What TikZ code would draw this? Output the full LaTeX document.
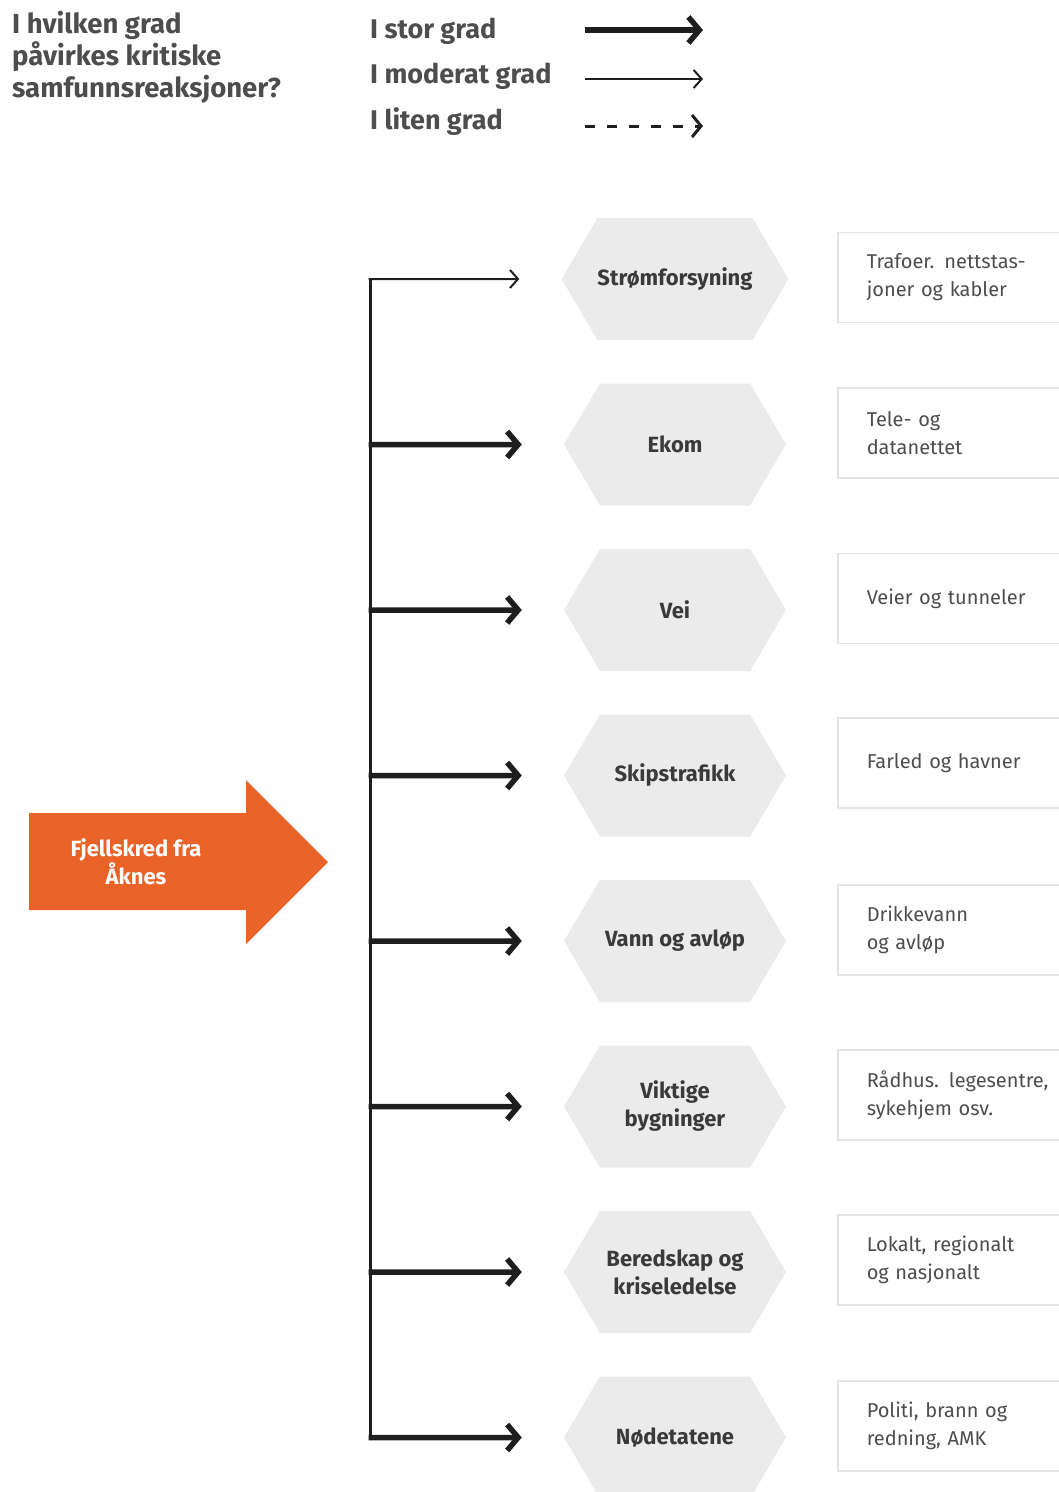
\documentclass[tikz,border=0pt]{standalone}
\usepackage{fontspec}
\setmainfont{Fira Sans}
\usetikzlibrary{positioning,shapes.symbols,arrows.meta}
\definecolor{skredorange}{HTML}{E96227}
\definecolor{hexgrey}{HTML}{EBEBEB}
\definecolor{rammegrey}{HTML}{E4E4E4}
\definecolor{mork}{HTML}{3A3A3A}
\definecolor{tittelgrey}{HTML}{4D4D4D}
\definecolor{pilsort}{HTML}{1E1E1E}
\tikzset{
  sektor/.style={signal, signal to=east and west, signal pointer angle=119,
    fill=hexgrey, minimum width=222pt, minimum height=122pt, inner sep=0pt,
    align=center, text=mork, font=\fontsize{22}{28}\selectfont\bfseries},
  infoboks/.style={rectangle, draw=rammegrey, line width=1.5pt, anchor=west,
    minimum width=240pt, minimum height=90pt, text width=182pt, inner xsep=29pt,
    align=left, text=tittelgrey, font=\fontsize{20}{28}\selectfont},
  stor/.style={draw=pilsort, line width=5.5pt, -{Straight Barb[length=11pt,width=26pt,line width=5.5pt]}},
  moderat/.style={draw=pilsort, line width=2pt, -{Straight Barb[length=8pt,width=18pt,line width=2pt]}},
  liten/.style={draw=pilsort, line width=3pt, dash pattern=on 10pt off 12pt,
    -{Straight Barb[length=9pt,width=22pt,line width=3pt]}},
  forklaring/.style={anchor=west, inner sep=0pt, text=tittelgrey,
    font=\fontsize{27}{32}\selectfont\bfseries},
}
\begin{document}
\begin{tikzpicture}[x=1pt,y=-1pt,node distance=165.5pt,on grid]
  \useasboundingbox (0,0) rectangle (1059,1492);
  \clip (0,0) rectangle (1059,1492);

  % tittel og forklaring
  \node[anchor=north west, inner sep=0pt, align=left, text=tittelgrey,
    font=\fontsize{27.5}{32}\selectfont\bfseries] (tittel) at (12,11)
    {I hvilken grad\\påvirkes kritiske\\samfunnsreaksjoner?};
  \node[forklaring] (f-stor) at (370,31) {I stor grad};
  \node[forklaring] (f-moderat) at (370,76) {I moderat grad};
  \node[forklaring] (f-liten) at (370,122) {I liten grad};
  \coordinate (fs-a) at (585,30);  \coordinate (fs-b) at (703,30);
  \coordinate (fm-a) at (585,79);  \coordinate (fm-b) at (703,79);
  \coordinate (fl-a) at (585,126); \coordinate (fl-b) at (703,126);
  \draw[stor] (fs-a) -- (fs-b);
  \draw[moderat] (fm-a) -- (fm-b);
  \draw[liten] (fl-a) -- (fl-b);

  % sektorene
  \node[sektor] (strom) at (675,279) {Strømforsyning};
  \node[sektor, below=of strom] (ekom) {Ekom};
  \node[sektor, below=of ekom] (vei) {Vei};
  \node[sektor, below=of vei] (skip) {Skipstrafikk};
  \node[sektor, below=of skip] (vann) {Vann og avløp};
  \node[sektor, below=of vann] (bygg) {Viktige\\bygninger};
  \node[sektor, below=of bygg] (bered) {Beredskap og\\kriseledelse};
  \node[sektor, below=of bered] (nod) {Nødetatene};

  % forklaringsbokser
  \node[infoboks] (b-strom) at (837,277.5) {Trafoer. nettstas-\\joner og kabler};
  \node[infoboks] (b-ekom) at (837,433) {Tele- og\\datanettet};
  \node[infoboks] (b-vei) at (837,598.5) {Veier og tunneler};
  \node[infoboks] (b-skip) at (837,763) {Farled og havner};
  \node[infoboks] (b-vann) at (837,930) {Drikkevann\\og avløp};
  \node[infoboks] (b-bygg) at (837,1095) {Rådhus. legesentre,\\sykehjem osv.};
  \node[infoboks] (b-bered) at (837,1260) {Lokalt, regionalt\\og nasjonalt};
  \node[infoboks] (b-nod) at (837,1426) {Politi, brann og\\redning, AMK};

  % fjellskredet
  \fill[skredorange] (29,813) -- (246,813) -- (246,780) -- (328,862)
    -- (246,944) -- (246,910) -- (29,910) -- cycle;
  \node[text=white, align=center, font=\fontsize{22}{28}\selectfont\bfseries]
    (skred) at (136,862) {Fjellskred fra\\Åknes};

  % piler
  \coordinate (stamme) at (370,0);
  \coordinate (t-strom) at (stamme |- strom);
  \coordinate (t-nod) at (stamme |- nod);
  \draw[draw=pilsort, line width=3pt] ([yshift=-1pt]t-strom) -- ([yshift=2pt]t-nod);
  \draw[moderat, shorten >=42pt] ([xshift=-1.5pt]t-strom) -- (strom);
  \foreach \s in {ekom,vei,skip,vann,bygg,bered,nod} {
    \coordinate (t-\s) at (stamme |- \s);
    \draw[stor, shorten >=42pt] ([xshift=-1.5pt]t-\s) -- (\s);
  }
\end{tikzpicture}
\end{document}
